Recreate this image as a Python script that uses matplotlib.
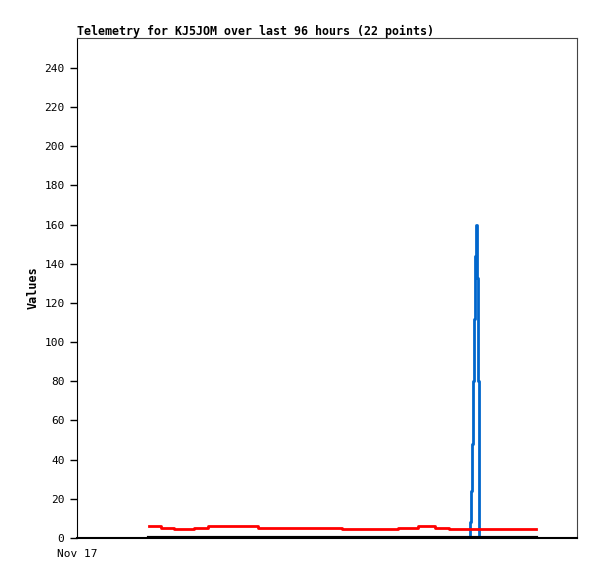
import matplotlib
matplotlib.use("Agg")
import matplotlib.pyplot as plt

# hours since the start of the window (Nov 17 00:00)
red_hours = [13.8, 16.1, 18.7, 22.5, 25.2, 34.8, 50.9, 61.6, 65.5, 68.7, 71.4, 88.1]
red_vals = [6.1, 5.1, 4.6, 5.1, 5.9, 5.3, 4.6, 5.1, 5.9, 5.1, 4.6, 4.6]

blue_hours = [13.8, 75.4, 75.6, 75.8, 76.0, 76.3, 76.5, 76.6, 76.8, 76.9, 77.1, 77.2, 88.1]
blue_vals = [0, 8, 24, 48, 80, 112, 144, 160, 133, 80, 27, 0, 0]

black_hours = [13.8, 88.1]
black_vals = [0, 0]

y_ticks = list(range(0, 241, 20))

fig = plt.figure(figsize=(5.97, 5.79), dpi=100)
ax = fig.add_axes([77 / 597, 41 / 579, 500 / 597, 500 / 579])

ax.step(blue_hours, blue_vals, where="post", color="#0066cc", lw=2)
ax.step(red_hours, red_vals, where="post", color="#ff0000", lw=2)
ax.plot(black_hours, black_vals, color="black", lw=3)

ax.set_xlim(0, 96)
ax.set_ylim(0, 255.3)
ax.set_yticks(y_ticks)
ax.set_xticks([0])
ax.set_xticklabels(["Nov 17"])

mono = "DejaVu Sans Mono"
for lbl in ax.get_yticklabels() + ax.get_xticklabels():
    lbl.set_fontfamily(mono)
    lbl.set_fontsize(8)
ax.tick_params(axis="y", direction="out", length=5, width=1, pad=4)
ax.tick_params(axis="x", direction="out", length=0, pad=8)

for side in ["top", "right"]:
    ax.spines[side].set_color("#444444")
ax.spines["left"].set_color("black")
ax.spines["bottom"].set_color("black")
ax.spines["bottom"].set_linewidth(1.5)

ax.set_ylabel("Values", fontfamily=mono, fontsize=8.5, fontweight="bold", labelpad=3)
ax.set_title("Telemetry for KJ5JOM over last 96 hours (22 points)", fontfamily=mono,
             fontsize=8.4, fontweight="bold", loc="left", pad=2)

fig.savefig("out.png", dpi=100)
